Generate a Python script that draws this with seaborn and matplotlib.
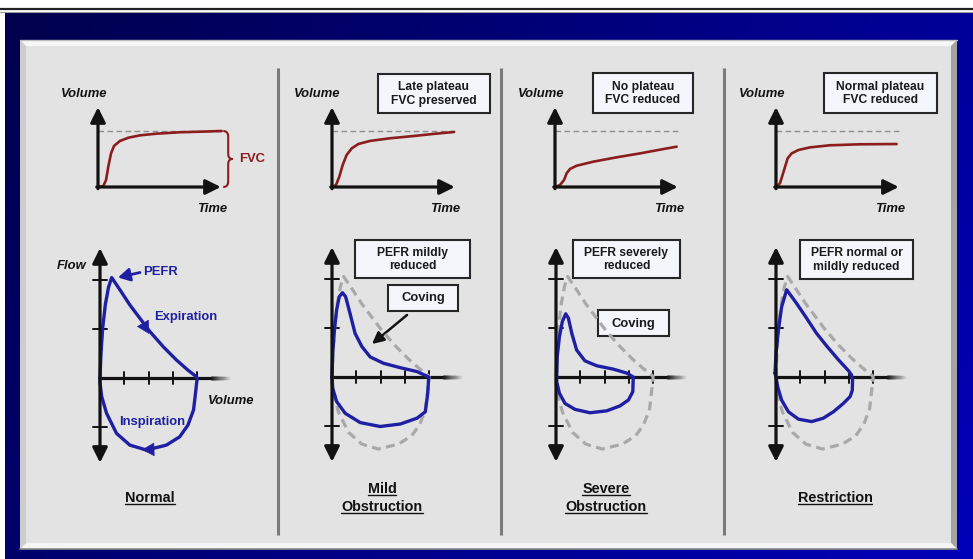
import numpy as np
import matplotlib
matplotlib.use('Agg')
import matplotlib.pyplot as plt
import seaborn as sns
from matplotlib.patches import Rectangle, Polygon
from matplotlib.path import Path
from matplotlib.patches import PathPatch
from matplotlib.colors import to_rgb

sns.set_theme(style='white')
plt.rcParams['font.family'] = ['Liberation Sans', 'DejaVu Sans']

# ---------------- data ----------------
panel_titles = ["Normal", "Mild\nObstruction", "Severe\nObstruction", "Restriction"]
top_notes = [None, "Late plateau\nFVC preserved", "No plateau\nFVC reduced", "Normal plateau\nFVC reduced"]
loop_notes = [None, "PEFR mildly\nreduced", "PEFR severely\nreduced", "PEFR normal or\nmildly reduced"]

fvc_ref = 4.0
vol_ticks = [1, 2, 3, 4]
flow_ticks = [-1, 1, 2]

# volume-time curves (time units, volume units)
vt_normal_t = [0, 0.43, 0.65, 0.83, 1.05, 1.29, 1.77, 2.45, 3.39, 4.73, 6.61, 8.23, 9.97]
vt_normal_v = [0, 0.07, 0.5, 1.45, 2.4, 2.93, 3.29, 3.52, 3.69, 3.81, 3.91, 3.95, 4.0]
vt_mild_t = [0, 0.32, 0.59, 0.86, 1.18, 1.59, 2.12, 3.06, 4.68, 6.56, 8.17, 9.84]
vt_mild_v = [0, 0.14, 0.74, 1.57, 2.29, 2.76, 3.07, 3.29, 3.48, 3.64, 3.79, 3.93]
vt_severe_t = [0, 0.4, 0.73, 0.94, 1.21, 1.75, 3.09, 4.97, 6.85, 8.73, 9.81]
vt_severe_v = [0, 0.14, 0.5, 0.98, 1.29, 1.52, 1.81, 2.12, 2.4, 2.71, 2.88]
vt_restr_t = [0, 0.32, 0.65, 0.94, 1.26, 1.8, 2.74, 4.35, 6.77, 9.73]
vt_restr_v = [0, 0.26, 1.21, 2.05, 2.4, 2.64, 2.83, 2.98, 3.05, 3.07]

# flow-volume loops (volume, flow)
fv_normal_vol = [0, 0.04, 0.11, 0.22, 0.35, 0.48, 0.82, 1.23, 1.64, 2.05, 2.6, 3.14, 3.62, 3.96, 4.0,
                 3.93, 3.85, 3.62, 3.28, 2.73, 1.91, 1.23, 0.68, 0.27, 0.07, 0.0, 0]
fv_normal_flow = [0, 0.5, 1.02, 1.5, 1.85, 2.05, 1.8, 1.49, 1.22, 0.95, 0.64, 0.37, 0.16, 0.03, 0,
                  -0.31, -0.65, -0.96, -1.2, -1.37, -1.47, -1.37, -1.13, -0.72, -0.38, -0.1, 0]
fv_mild_vol = [0, 0.03, 0.1, 0.19, 0.3, 0.43, 0.56, 0.74, 0.95, 1.23, 1.57, 2.12, 2.81, 3.5, 3.98,
               3.94, 3.84, 3.5, 2.81, 1.98, 1.16, 0.54, 0.19, 0.03, 0]
fv_mild_flow = [0, 0.48, 0.96, 1.37, 1.64, 1.72, 1.64, 1.3, 0.89, 0.62, 0.41, 0.28, 0.19, 0.11, 0,
                -0.33, -0.71, -0.84, -0.96, -1.01, -0.93, -0.74, -0.5, -0.23, 0]
fv_severe_vol = [0.03, 0.05, 0.14, 0.26, 0.4, 0.51, 0.65, 0.85, 1.19, 1.67, 2.36, 2.91, 3.18,
                 3.16, 2.98, 2.63, 2.09, 1.4, 0.78, 0.37, 0.14, 0.03, 0.03]
fv_severe_flow = [0, 0.41, 0.82, 1.13, 1.29, 1.2, 0.89, 0.55, 0.33, 0.23, 0.16, 0.08, 0.0,
                  -0.3, -0.47, -0.59, -0.69, -0.73, -0.66, -0.54, -0.33, -0.1, 0]
fv_restr_vol = [-0.04, 0, 0.1, 0.23, 0.44, 0.85, 1.26, 1.67, 2.09, 2.57, 2.98, 3.11,
                3.15, 3.14, 3.05, 2.77, 2.36, 1.95, 1.47, 0.92, 0.51, 0.23, 0.07, 0, -0.04]
fv_restr_flow = [0.08, 0.48, 0.96, 1.43, 1.78, 1.5, 1.2, 0.89, 0.63, 0.35, 0.13, 0.04,
                 -0.06, -0.27, -0.4, -0.54, -0.71, -0.84, -0.91, -0.86, -0.71, -0.47, -0.2, 0, 0.08]

vt_curves = [(vt_normal_t, vt_normal_v), (vt_mild_t, vt_mild_v),
             (vt_severe_t, vt_severe_v), (vt_restr_t, vt_restr_v)]
fv_loops = [(fv_normal_vol, fv_normal_flow), (fv_mild_vol, fv_mild_flow),
            (fv_severe_vol, fv_severe_flow), (fv_restr_vol, fv_restr_flow)]

# ---------------- styling / layout ----------------
W, H = 973, 559
BLUE = '#1f1fa3'
RED = '#8b1d1d'
INK = '#121212'
PANEL = '#e3e3e3'
GRAY_DASH = '#a9a9a9'
LBL = 9.4
BOXF = 8.7
TITF = 10.4

fig = plt.figure(figsize=(W / 100, H / 100), dpi=100)
fig.patch.set_facecolor('white')

bg = fig.add_axes([0, 0, 1, 1])
bg.set_axis_off()

# blue frame gradient
gx = np.linspace(0, 1, 300)[None, :]
gy = np.linspace(0, 1, 200)[:, None]
b = 0.30 + 0.30 * gx + 0.12 * gy
grad = np.dstack([np.zeros_like(b), np.zeros_like(b), np.clip(b, 0, 1)])
bg.imshow(grad, extent=(5, W, H, 13), aspect='auto', zorder=0, interpolation='bilinear')
bg.plot([0, W], [9, 9], color='#222222', lw=1.6, zorder=1)
bg.plot([0, W], [11.5, 11.5], color='#9a9a9a', lw=0.8, zorder=1)

# bevelled grey panel
L, R, T, B = 20, 957, 40, 549
bv = 6
bg.add_patch(Rectangle((L, T), R - L, B - T, fc=PANEL, ec='none', zorder=1))
bg.add_patch(Polygon([(L, T), (R, T), (R - bv, T + bv), (L + bv, T + bv)], fc='#f7f7f7', ec='none', zorder=2))
bg.add_patch(Polygon([(R, T), (R, B), (R - bv, B - bv), (R - bv, T + bv)], fc='#a3a3a3', ec='none', zorder=2))
bg.add_patch(Polygon([(L, B), (R, B), (R - bv, B - bv), (L + bv, B - bv)], fc='#f5f5f5', ec='none', zorder=2))
bg.add_patch(Polygon([(L, T), (L + bv, T + bv), (L + bv, B - bv), (L, B)], fc='#cdcdcd', ec='none', zorder=2))
bg.plot([L, R], [B, B], color='#8c8c8c', lw=1.2, zorder=3)
bg.plot([L, R], [T, T], color='#bdbdbd', lw=1.0, zorder=3)

# separators
for sx in [278, 501, 724]:
    bg.plot([sx, sx], [68, 535], color='#7a7a7a', lw=2.2, zorder=3, solid_capstyle='butt')

bg.set_xlim(0, W)
bg.set_ylim(H, 0)


def unit_axes(ox, oy, sx, sy, xr, yr):
    left = ox + xr[0] * sx
    right = ox + xr[1] * sx
    top = oy - yr[1] * sy
    bottom = oy - yr[0] * sy
    ax = fig.add_axes([left / W, 1 - bottom / H, (right - left) / W, (bottom - top) / H])
    ax.set_xlim(*xr)
    ax.set_ylim(*yr)
    ax.set_axis_off()
    ax.patch.set_alpha(0)
    return ax


def axis_arrow(ax, start, end, both=False):
    style = '<|-|>' if both else '-|>'
    ax.annotate('', xy=end, xytext=start,
                arrowprops=dict(arrowstyle=f'{style},head_length=0.5,head_width=0.25',
                                color=INK, lw=2.3, mutation_scale=18, shrinkA=0, shrinkB=0))


def box(x0, y0, x1, y1, text, fs=BOXF):
    bg.add_patch(Rectangle((x0, y0), x1 - x0, y1 - y0, fc='#f4f6fb', ec='#262626', lw=1.5, zorder=5))
    bg.text((x0 + x1) / 2, (y0 + y1) / 2 + 0.5, text, ha='center', va='center', fontsize=fs,
            fontweight='bold', color='#1a1a1a', linespacing=1.2, zorder=6)


def italic_label(x, y, s):
    bg.text(x, y, s, ha='center', va='center', fontsize=LBL, fontweight='bold',
            fontstyle='italic', color=INK, zorder=6)


ink_rgb = np.array(to_rgb(INK))
panel_rgb = np.array(to_rgb(PANEL))

# ---------------- volume-time charts ----------------
vt_origins = [98, 332, 555, 776]
vt_axes = []
for i, (t, v) in enumerate(vt_curves):
    ax = unit_axes(vt_origins[i], 187, 12.4, 14, (-1.5, 13.0), (-1.5, 6.5))
    ax.plot([0, 10], [fvc_ref, fvc_ref], color='#8d8d8d', lw=1.0, ls=(0, (4, 2.5)))
    sns.lineplot(x=t, y=v, sort=False, estimator=None, color=RED, lw=1.9, ax=ax, legend=False)
    axis_arrow(ax, (0, -0.12), (0, 5.7))
    axis_arrow(ax, (-0.1, 0), (9.9, 0))
    vt_axes.append(ax)

# FVC brace on the normal chart
axn = vt_axes[0]
verts = [(10.1, fvc_ref), (10.5, fvc_ref), (10.5, fvc_ref - 0.4),
         (10.5, fvc_ref / 2 + 0.35), (10.5, fvc_ref / 2), (10.85, fvc_ref / 2),
         (10.5, fvc_ref / 2), (10.5, fvc_ref / 2 - 0.35), (10.5, 0.4),
         (10.5, 0), (10.1, 0)]
codes = [Path.MOVETO, Path.CURVE3, Path.CURVE3, Path.LINETO, Path.CURVE3, Path.CURVE3,
         Path.CURVE3, Path.CURVE3, Path.LINETO, Path.CURVE3, Path.CURVE3]
axn.add_patch(PathPatch(Path(verts, codes), fc='none', ec=RED, lw=1.5, clip_on=False))
bg.text(239, 159, 'FVC', ha='left', va='center', fontsize=LBL, fontweight='bold', color=RED, zorder=6)

# ---------------- flow-volume charts ----------------
fv_origins = [(100, 378), (332, 377), (556, 377), (776, 377)]
for i, (vol, flow) in enumerate(fv_loops):
    ox, oy = fv_origins[i]
    ax = unit_axes(ox, oy, 24.3, 49, (-1.0, 6.0), (-2.2, 3.0))
    # axes: solid part plus a fading tail (light-to-dark overdraw, no seams)
    nseg = 18
    for k in range(nseg, 0, -1):
        frac = k / (nseg + 1)
        col = ink_rgb * (1 - frac) + panel_rgb * frac
        ax.plot([4.55, 4.55 + k * 0.045], [0, 0], color=col, lw=2.3, solid_capstyle='butt')
    ax.plot([0, 4.56], [0, 0], color=INK, lw=2.3, solid_capstyle='butt')
    axis_arrow(ax, (0, -1.73), (0, 2.65), both=True)
    for f in flow_ticks:
        ax.plot([-0.28, 0.28], [f, f], color=INK, lw=1.4)
    for vv in vol_ticks:
        ax.plot([vv, vv], [-0.12, 0.12], color=INK, lw=1.4)
    if i > 0:
        sns.lineplot(x=fv_normal_vol, y=fv_normal_flow, sort=False, estimator=None,
                     color=GRAY_DASH, lw=2.3, ls=(0, (2.8, 1.7)), ax=ax, legend=False)
    sns.lineplot(x=vol, y=flow, sort=False, estimator=None, color=BLUE, lw=2.4,
                 ax=ax, legend=False, solid_joinstyle='round')
    if i == 0:
        ax.annotate('', xy=(2.02, 0.9), xytext=(1.75, 1.13),
                    arrowprops=dict(arrowstyle='-|>,head_length=0.55,head_width=0.3', color=BLUE,
                                    lw=0.5, mutation_scale=15, shrinkA=0, shrinkB=0))
        ax.annotate('', xy=(1.72, -1.465), xytext=(2.05, -1.46),
                    arrowprops=dict(arrowstyle='-|>,head_length=0.55,head_width=0.3', color=BLUE,
                                    lw=0.5, mutation_scale=15, shrinkA=0, shrinkB=0))

# ---------------- text / annotations ----------------
for x in [84, 317, 541, 762]:
    italic_label(x, 94, 'Volume')
for x in [212, 445, 669, 890]:
    italic_label(x, 209, 'Time')
italic_label(72, 266, 'Flow')
italic_label(231, 401, 'Volume')

bg.text(143, 272, 'PEFR', ha='left', va='center', fontsize=LBL, fontweight='bold', color=BLUE, zorder=6)
bg.annotate('', xy=(118, 277.5), xytext=(140, 272.5),
            arrowprops=dict(arrowstyle='-|>,head_length=0.5,head_width=0.28', color=BLUE, lw=2.0,
                            mutation_scale=14, shrinkA=0, shrinkB=0), zorder=6)
bg.text(186, 317, 'Expiration', ha='center', va='center', fontsize=LBL, fontweight='bold', color=BLUE, zorder=6)
bg.text(152, 422, 'Inspiration', ha='center', va='center', fontsize=LBL, fontweight='bold', color=BLUE, zorder=6)

top_boxes = [None, (378, 74, 490, 113), (593, 73, 693, 113), (824, 73, 937, 113)]
loop_boxes = [None, (355, 240, 470, 278), (573, 240, 680, 278), (800, 240, 913, 279)]
for i in range(1, 4):
    box(*top_boxes[i], top_notes[i])
    box(*loop_boxes[i], loop_notes[i])
box(388, 285, 458, 311, 'Coving', fs=LBL)
box(598, 310, 669, 336, 'Coving', fs=LBL)
bg.annotate('', xy=(372, 344), xytext=(407, 315),
            arrowprops=dict(arrowstyle='-|>,head_length=0.5,head_width=0.25', color=INK, lw=1.8,
                            mutation_scale=14, shrinkA=0, shrinkB=0), zorder=6)

title_pos = [[(150, 502)], [(382, 493), (382, 511)], [(606, 493), (606, 511)], [(835, 502)]]
title_texts = []
for i, name in enumerate(panel_titles):
    for line, (x, yb) in zip(name.split('\n'), title_pos[i]):
        t = bg.text(x, yb, line, ha='center', va='baseline', fontsize=TITF, fontweight='bold',
                    color=INK, zorder=6)
        title_texts.append((t, yb))

fig.canvas.draw()
rend = fig.canvas.get_renderer()
inv = bg.transData.inverted()
for t, yb in title_texts:
    bb = t.get_window_extent(rend)
    xs = inv.transform([[bb.x0, 0], [bb.x1, 0]])[:, 0]
    bg.plot(xs, [yb + 2, yb + 2], color=INK, lw=1.0, zorder=6)

bg.set_xlim(0, W)
bg.set_ylim(H, 0)

fig.savefig('out.png', dpi=100)
